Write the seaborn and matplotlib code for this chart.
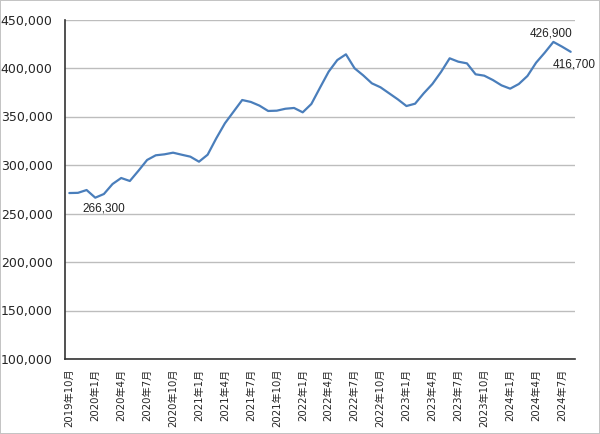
import numpy as np
import pandas as pd
import matplotlib
matplotlib.use("Agg")
import matplotlib.pyplot as plt
import seaborn as sns
from matplotlib.ticker import FuncFormatter

# Dados mensais (2019年10月 - 2024年8月)
meses = pd.period_range("2019-10", "2024-08", freq="M")
rotulos = [f"{p.year}年{p.month}月" for p in meses]
valores = [
    271100, 271300, 274200, 266300, 270100, 280400, 286600, 283500, 294100, 305200,
    310000, 311000, 312700, 310600, 308600, 303400, 310600, 327500, 343000, 355000,
    367000, 365000, 361200, 355700, 356000, 358000, 358800, 354300, 362900, 379700,
    396200, 408200, 414100, 399700, 392400, 384200, 380100, 373900, 367700, 360800,
    363200, 373900, 383500, 395900, 410000, 406500, 404800, 393500, 392100, 387600,
    382100, 378700, 383500, 391800, 405500, 415800, 426900, 422000, 416700,
]
# rótulos de dados: (índice, texto, deslocamento em pontos)
anotacoes = [(3, "266,300", (6.2, -7.6)), (56, "426,900", (-1.4, 6.2)), (58, "416,700", (2.3, -9.0))]

df = pd.DataFrame({"idx": np.arange(len(valores)), "valor": valores})

sns.set_style("white")
plt.rcParams["font.family"] = ["DejaVu Sans", "Noto Sans CJK JP"]

fig = plt.figure(figsize=(6, 4.34), dpi=100)
fig.patch.set_edgecolor("#c4c4c4")
fig.patch.set_linewidth(1.2)
ax = fig.add_axes([65 / 600, 1 - 359 / 434, 510 / 600, 339.5 / 434])

sns.lineplot(data=df, x="idx", y="valor", ax=ax, color="#4a7ebb", linewidth=1.6)

ax.set_xlim(-0.5, len(valores) - 0.5)
ax.set_ylim(100000, 450000)
ax.set_yticks(np.arange(100000, 450001, 50000))
ax.yaxis.set_major_formatter(FuncFormatter(lambda v, p: f"{int(v):,}"))
ax.grid(axis="y", color="#bdbdbd", linewidth=1)
ax.set_axisbelow(True)

pos = np.arange(0, len(valores), 3)
ax.set_xticks(pos)
ax.set_xticklabels([rotulos[i] for i in pos], rotation=90, fontsize=7.3)
ax.set_xticks(pos - 0.5, minor=True)
ax.tick_params(axis="x", which="major", length=0, pad=7)
ax.tick_params(axis="x", which="minor", length=3, color="#333333", direction="out")
ax.tick_params(axis="y", length=3, color="#333333", direction="out", labelsize=9, pad=6)

for s in ["top", "right"]:
    ax.spines[s].set_visible(False)
for s in ["left", "bottom"]:
    ax.spines[s].set_color("#333333")
    ax.spines[s].set_linewidth(1.2)

ax.set_xlabel("")
ax.set_ylabel("")

for i, txt, off in anotacoes:
    ax.annotate(txt, xy=(i, valores[i]), xytext=off, textcoords="offset points",
                ha="center", va="center", fontsize=8.5, family="Liberation Sans",
                color="#222222", annotation_clip=False)

fig.savefig("out.png", dpi=100, edgecolor=fig.get_edgecolor())
